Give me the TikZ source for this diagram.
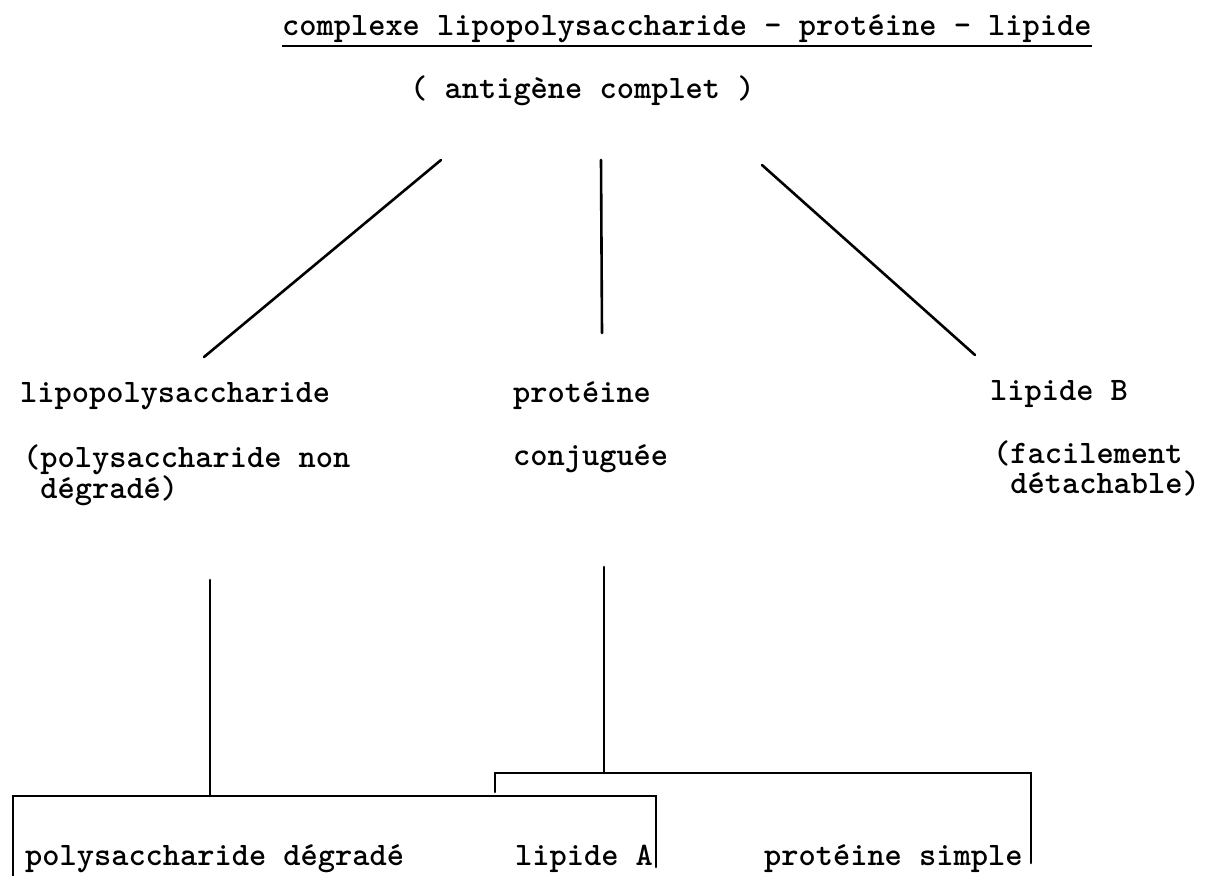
\documentclass[tikz,border=0pt]{standalone}
\usepackage{tikz}

\tikzset{
  tw/.style={inner sep=0pt, anchor=base west, font=\ttfamily\bfseries\fontsize{32.8}{31}\selectfont},
  rule/.style={line width=2.6pt, line cap=round}
}

\begin{document}
\begin{tikzpicture}[x=1pt, y=-1pt]
    \useasboundingbox (0,0) rectangle (1219,876);

    % top of the tree
    \node[tw] (title) at (282,35) {complexe lipopolysaccharide - protéine - lipide};
    \draw[line width=2pt] ([yshift=-11pt]title.base west) -- ([yshift=-11pt]title.base east);
    \node[tw] (antigen) at (410,98) {( antigène complet )};

    \coordinate (dl-top) at (441,160);
    \coordinate (dl-bot) at (204,357);
    \coordinate (dm-top) at (601,160);
    \coordinate (dm-bot) at (602,333);
    \coordinate (dr-top) at (762,165);
    \coordinate (dr-bot) at (975,355);
    \draw[rule] (dl-top) -- (dl-bot);
    \draw[rule] (dm-top) -- (dm-bot);
    \draw[rule] (dr-top) -- (dr-bot);

    % first split
    \node[tw] (lps) at (20,402) {lipopolysaccharide};
    \node[tw] (lpsa) at (23,467) {(polysaccharide non};
    \node[tw] (lpsb) at (23,498) {~dégradé)};

    \node[tw] (prot) at (513,402) {protéine};
    \node[tw] (conj) at (513,465) {conjuguée};

    \node[tw] (lipB) at (990,400) {lipide B};
    \node[tw] (lipBa) at (993,463) {(facilement};
    \node[tw] (lipBb) at (993,493) {~détachable)};

    % second split
    \coordinate (ll-top) at (210,580);
    \coordinate (ll-bot) at (210,796);
    \coordinate (lm-top) at (604,567);
    \coordinate (lm-bot) at (604,773);
    \draw[rule] (ll-top) -- (ll-bot);
    \draw[rule] (lm-top) -- (lm-bot);

    \coordinate (lb-a) at (13,876);
    \coordinate (lb-b) at (656,867);
    \draw[rule] (lb-a) |- (ll-bot) -| (lb-b);

    \coordinate (rb-a) at (495,792);
    \coordinate (rb-b) at (1031,863);
    \draw[rule] (rb-a) |- (lm-bot) -| (rb-b);

    \node[tw] (polyd) at (25,865) {polysaccharide dégradé};
    \node[tw] (lipA) at (515,865) {lipide A};
    \node[tw] (protS) at (764,865) {protéine simple};

\end{tikzpicture}
\end{document}
